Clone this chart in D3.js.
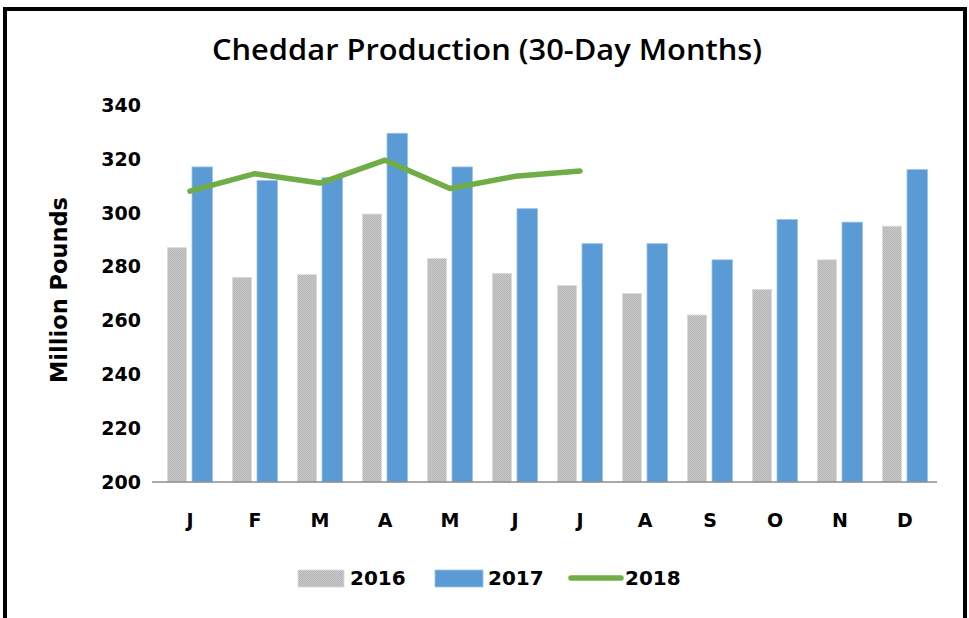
<!DOCTYPE html>
<html><head><meta charset="utf-8">
<script src="https://cdn.jsdelivr.net/npm/d3@7"></script>
<style>
html,body{margin:0;padding:0;background:#fff;}
svg{display:block;}
</style></head>
<body>
<script>
const months = ["J","F","M","A","M","J","J","A","S","O","N","D"];
const values2016 = [287, 276, 277, 299.5, 283, 277.5, 273, 270, 262, 271.5, 282.5, 295];
const values2017 = [317, 312, 313, 329.5, 317, 301.5, 288.5, 288.5, 282.5, 297.5, 296.5, 316];
const values2018 = [308, 314.5, 311, 319.5, 309, 313.5, 315.5];
const yTicks = [200, 220, 240, 260, 280, 300, 320, 340];
const legendLabels = ["2016", "2017", "2018"];

const W = 969, H = 618;
const svg = d3.select("body").append("svg").attr("width", W).attr("height", H);

const defs = svg.append("defs");
const pat = defs.append("pattern").attr("id","dots").attr("patternUnits","userSpaceOnUse")
  .attr("width",2).attr("height",2);
pat.append("rect").attr("width",2).attr("height",2).attr("fill","#c8c8c8");
pat.append("rect").attr("width",1).attr("height",1).attr("fill","#b6b6b6");
pat.append("rect").attr("x",1).attr("y",1).attr("width",1).attr("height",1).attr("fill","#b6b6b6");

// frame
svg.append("path").attr("d","M5,618 V9 H965 V618").attr("fill","none")
  .attr("stroke","#000").attr("stroke-width",4);

const font = "'DejaVu Sans', Verdana, sans-serif";

svg.append("text").attr("x", 487).attr("y", 60).attr("text-anchor","middle")
  .attr("font-family","'Open Sans', sans-serif").attr("font-weight",600).attr("font-size",29)
  .attr("textLength",550).attr("lengthAdjust","spacingAndGlyphs")
  .attr("fill","#000").text("Cheddar Production (30-Day Months)");

const x = d3.scaleBand().domain(d3.range(12)).range([157.5, 937.5]).paddingInner(0).paddingOuter(0);
const y = d3.scaleLinear().domain([200, 340]).range([482, 105]);

const g = svg.append("g");

// y tick labels
g.selectAll("text.ytick").data(yTicks).enter().append("text")
  .attr("class","ytick").attr("x", 141).attr("y", d => y(d)).attr("dy","0.36em")
  .attr("text-anchor","end").attr("font-family",font).attr("font-weight","bold")
  .attr("font-size",19).attr("fill","#000").text(d => d);

// y axis title
svg.append("text").attr("transform","translate(67,290) rotate(-90)")
  .attr("text-anchor","middle").attr("font-family",font).attr("font-weight","bold")
  .attr("font-size",22.5).attr("fill","#000").text("Million Pounds");

const cx = i => x(i) + x.bandwidth()/2;

// bars 2016
g.selectAll("rect.b16").data(values2016).enter().append("rect")
  .attr("x", (d,i) => cx(i) - 22.5).attr("width", 19)
  .attr("y", d => y(d)).attr("height", d => y(200) - y(d))
  .attr("fill","url(#dots)").attr("stroke","#dadada").attr("stroke-width",0.8);

// bars 2017
g.selectAll("rect.b17").data(values2017).enter().append("rect")
  .attr("x", (d,i) => cx(i) + 2).attr("width", 20.5)
  .attr("y", d => y(d)).attr("height", d => y(200) - y(d))
  .attr("fill","#5b9bd5").attr("stroke","#9cc3e8").attr("stroke-width",0.8);

// baseline
g.append("line").attr("x1",152).attr("x2",937).attr("y1",y(200)).attr("y2",y(200))
  .attr("stroke","#8c8c8c").attr("stroke-width",1.5);

// 2018 line
const line = d3.line().x((d,i) => cx(i)).y(d => y(d));
g.append("path").datum(values2018).attr("d", line).attr("fill","none")
  .attr("stroke","#70ad47").attr("stroke-width",5.5).attr("stroke-linecap","round")
  .attr("stroke-linejoin","round");

// x labels
g.selectAll("text.xl").data(months).enter().append("text")
  .attr("x",(d,i) => cx(i)).attr("y",527).attr("text-anchor","middle")
  .attr("font-family",font).attr("font-weight","bold").attr("font-size",19)
  .attr("fill","#000").text(d => d);

// legend
const lg = svg.append("g");
lg.append("rect").attr("x",298).attr("y",570).attr("width",46).attr("height",17)
  .attr("fill","url(#dots)").attr("stroke","#dadada").attr("stroke-width",0.8);
lg.append("text").attr("x",350).attr("y",578).attr("dy","0.36em")
  .attr("font-family",font).attr("font-weight","bold").attr("font-size",20).text(legendLabels[0]);
lg.append("rect").attr("x",435).attr("y",570).attr("width",48).attr("height",17)
  .attr("fill","#5b9bd5").attr("stroke","#9cc3e8").attr("stroke-width",0.8);
lg.append("text").attr("x",488).attr("y",578).attr("dy","0.36em")
  .attr("font-family",font).attr("font-weight","bold").attr("font-size",20).text(legendLabels[1]);
lg.append("line").attr("x1",571).attr("x2",621).attr("y1",578).attr("y2",578)
  .attr("stroke","#70ad47").attr("stroke-width",5.5).attr("stroke-linecap","round");
lg.append("text").attr("x",625).attr("y",578).attr("dy","0.36em")
  .attr("font-family",font).attr("font-weight","bold").attr("font-size",20).text(legendLabels[2]);
</script>
</body></html>
